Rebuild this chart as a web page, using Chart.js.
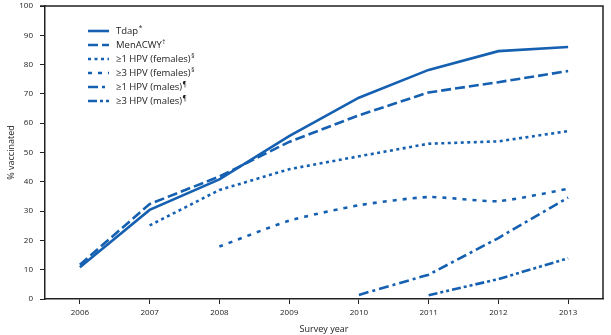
<!DOCTYPE html>
<html><head><meta charset="utf-8">
<script src="https://cdn.jsdelivr.net/npm/chart.js@4/dist/chart.umd.min.js"></script>
<style>html,body{margin:0;padding:0;background:#fff}</style>
</head><body>
<canvas id="c" width="611" height="335"></canvas>
<script>
const years = ['2006','2007','2008','2009','2010','2011','2012','2013'];
const tdap = [10.8, 30.4, 40.8, 55.6, 68.7, 78.2, 84.6, 86.0];
const menacwy = [11.7, 32.4, 41.8, 53.6, 62.7, 70.5, 74.0, 77.8];
const hpv1Female = [null, 25.1, 37.2, 44.3, 48.7, 53.0, 53.8, 57.3];
const hpv3Female = [null, null, 17.9, 26.7, 32.0, 34.8, 33.4, 37.6];
const hpv1Male = [null, null, null, null, 1.4, 8.3, 20.8, 34.6];
const hpv3Male = [null, null, null, null, null, 1.3, 6.8, 13.9];
const seriesNames = ['Tdap','MenACWY','\u22651 HPV (females)','\u22653 HPV (females)','\u22651 HPV (males)','\u22653 HPV (males)'];
const seriesMarks = ['*','\u2020','\u00a7','\u00a7','\u00b6','\u00b6'];

const blue = '#1560b0';
const dashes = [[], [10,4], [3,3.5], [4,6], [10,4,3,4], [9,3,3,3,3,3]];
const values = [tdap, menacwy, hpv1Female, hpv3Female, hpv1Male, hpv3Male];
const font = "'Open Sans', 'Liberation Sans', sans-serif";

const datasets = values.map((v,i)=>({
  label: seriesNames[i],
  data: v,
  borderColor: blue,
  backgroundColor: blue,
  borderWidth: 2.6,
  borderDash: dashes[i],
  pointRadius: 0,
  tension: i===3 ? 0.2 : 0,
  spanGaps: false,
  fill: false
}));

const framePlugin = {
  id: 'frame',
  afterDraw(chart){
    const {ctx, chartArea:a} = chart;
    ctx.save();
    ctx.strokeStyle = '#222';
    ctx.lineWidth = 1.5;
    ctx.beginPath();
    ctx.moveTo(a.left-5, a.top); ctx.lineTo(a.right, a.top); ctx.lineTo(a.right, a.bottom);
    ctx.stroke();
    // legend
    const x0 = 88, x1 = 109, tx = 116;
    let y = 31;
    chart.data.datasets.forEach((ds,i)=>{
      ctx.strokeStyle = blue;
      ctx.lineWidth = 2.6;
      ctx.setLineDash(ds.borderDash);
      ctx.beginPath(); ctx.moveTo(x0,y); ctx.lineTo(x1,y); ctx.stroke();
      ctx.setLineDash([]);
      ctx.fillStyle = '#222';
      ctx.textBaseline = 'middle';
      ctx.textAlign = 'left';
      ctx.font = "9.5px " + font;
      ctx.fillText(seriesNames[i], tx, y);
      const w = ctx.measureText(seriesNames[i]).width;
      ctx.font = "6.5px " + font;
      ctx.fillText(seriesMarks[i], tx + w + 0.5, y - 3);
      y += 14;
    });
    ctx.restore();
  }
};

new Chart(document.getElementById('c'), {
  type: 'line',
  data: { labels: years, datasets },
  options: {
    responsive: false,
    animation: false,
    layout: { padding: { top: 6, right: 8, left: 0, bottom: 0 } },
    plugins: { legend: { display: false }, tooltip: { enabled: false } },
    scales: {
      x: {
        offset: true,
        grid: { display: true, drawOnChartArea: false, drawTicks: true, tickLength: 5, color: '#222', lineWidth: 1 },
        border: { display: true, color: '#222', width: 1.5 },
        ticks: { color: '#222', font: { family: font, size: 8 }, padding: 4, maxRotation: 0 },
        title: { display: true, text: 'Survey year', color: '#222', font: { family: font, size: 9 }, padding: { top: 2, bottom: 0 } },
        afterFit(s){ s.height = 36; }
      },
      y: {
        min: 0, max: 100,
        grid: { display: true, drawOnChartArea: false, drawTicks: true, tickLength: 5, color: '#222', lineWidth: 1 },
        border: { display: true, color: '#222', width: 1.5 },
        ticks: { stepSize: 10, color: '#222', font: { family: font, size: 8 }, padding: 7 },
        title: { display: true, text: '% vaccinated', color: '#222', font: { family: font, size: 9 }, padding: { top: 6, bottom: 4 } },
        afterFit(s){ s.width = 45; s.paddingTop = 0; s.paddingBottom = 0; }
      }
    }
  },
  plugins: [framePlugin]
});
</script>
</body></html>
